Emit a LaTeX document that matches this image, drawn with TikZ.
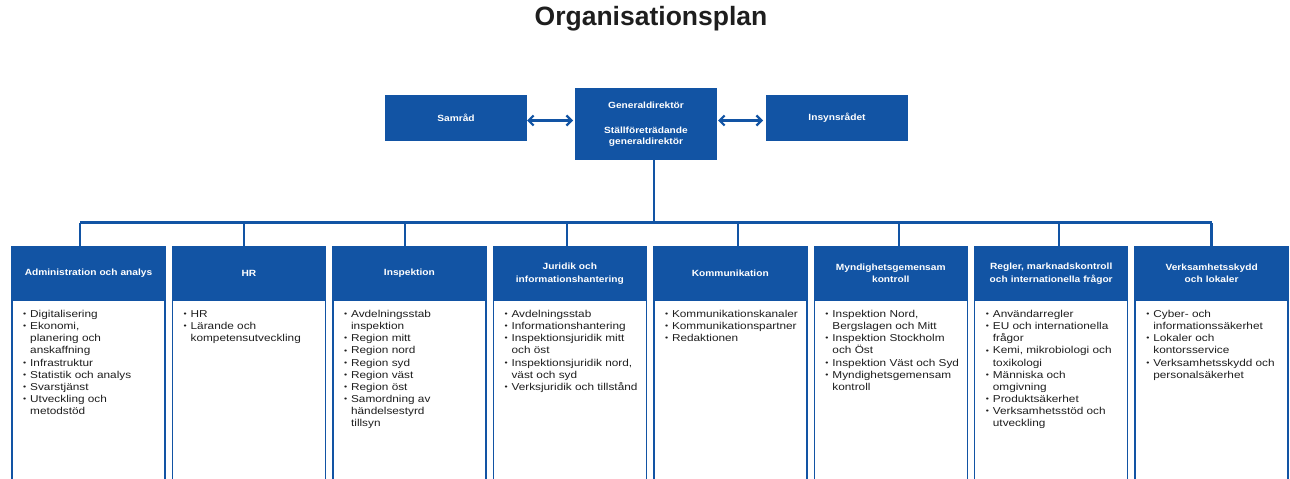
\documentclass[tikz,border=0pt]{standalone}
\usepackage{fontspec}
\setmainfont{Liberation Sans}
\newfontfamily\headfont{Liberation Sans}[FakeStretch=1.13]
\newfontfamily\bodyfont{Liberation Sans}[FakeStretch=1.18]
\usetikzlibrary{arrows.meta, positioning}

\definecolor{orgblue}{RGB}{18,84,164}
\definecolor{orgtext}{RGB}{30,30,30}

% bullet and continuation line for the unit lists
\newcommand{\bl}{\makebox[7pt][l]{\raisebox{0.15ex}{\scalebox{0.75}{\textbullet}}}}
\newcommand{\cl}{\hspace*{7pt}}

\begin{document}
\begin{tikzpicture}[x=1pt, y=-1pt,
  head/.style={rectangle, draw=orgblue, fill=orgblue, line width=1.5pt, outer sep=0pt,
               minimum width=153pt, minimum height=53pt, text width=145pt, align=center,
               text=white, font=\headfont\bfseries\fontsize{9}{12.5}\selectfont},
  topbox/.style={head, minimum width=140pt, minimum height=44pt, text width=130pt,
                 font=\headfont\bfseries\fontsize{9}{11.5}\selectfont},
  body/.style={rectangle, draw=orgblue, fill=white, line width=1.5pt, outer sep=0pt,
               minimum width=153pt, minimum height=184pt},
  list/.style={anchor=north west, inner sep=0pt, align=left, text=orgtext,
               font=\bodyfont\fontsize{10}{12.15}\selectfont},
  conn/.style={draw=orgblue, line width=2.5pt},
  biarr/.style={{Straight Barb[length=5pt,width=10pt]}-{Straight Barb[length=5pt,width=10pt]},
                draw=orgblue, line width=2.2pt}
]
\useasboundingbox (0,0) rectangle (1290,479);
\clip (0,0) rectangle (1290,479);

\node[font=\bfseries\fontsize{26.5}{30}\selectfont, text=orgtext] (title) at (651,18.5) {Organisationsplan};

% management row
\node[topbox, minimum height=70pt] (gd) at (646,124)
  {Generaldirektör\\[13.5pt]Ställföreträdande\\generaldirektör};
\node[topbox] (samrad) at (456,118) {Samråd};
\node[topbox] (insyn) at (837,118) {Insynsrådet};
\draw[biarr, shorten <=1pt, shorten >=3pt] ([yshift=-2.5pt]samrad.east) -- ([yshift=-2.5pt]samrad.east -| gd.west);
\draw[biarr, shorten <=2pt, shorten >=4pt] ([yshift=-2.5pt]insyn.west -| gd.east) -- ([yshift=-2.5pt]insyn.west);

% departments
\node[head] (hd1) at (88.5,273.5) {Administration och analys};
\node[head, right=7.45pt of hd1] (hd2) {HR};
\node[head, right=7.45pt of hd2] (hd3) {Inspektion};
\node[head, right=7.45pt of hd3] (hd4) {Juridik och\\informationshantering};
\node[head, right=7.45pt of hd4] (hd5) {Kommunikation};
\node[head, right=7.45pt of hd5] (hd6) {Myndighetsgemensam\\kontroll};
\node[head, right=7.45pt of hd6] (hd7) {Regler, marknadskontroll\\och internationella frågor};
\node[head, right=7.45pt of hd7] (hd8) {Verksamhetsskydd\\och lokaler};
\foreach \i in {1,...,8}
  \node[body, below=0pt of hd\i] (bx\i) {};

% units
\node[list] (ls1) at ([xshift=11pt, yshift=-10pt]bx1.north west)
  {\bl Digitalisering\\\bl Ekonomi,\\\cl planering och\\\cl anskaffning\\\bl Infrastruktur\\
   \bl Statistik och analys\\\bl Svarstjänst\\\bl Utveckling och\\\cl metodstöd};
\node[list] (ls2) at ([xshift=11pt, yshift=-10pt]bx2.north west)
  {\bl HR\\\bl Lärande och\\\cl kompetensutveckling};
\node[list] (ls3) at ([xshift=11pt, yshift=-10pt]bx3.north west)
  {\bl Avdelningsstab\\\cl inspektion\\\bl Region mitt\\\bl Region nord\\\bl Region syd\\
   \bl Region väst\\\bl Region öst\\\bl Samordning av\\\cl händelsestyrd\\\cl tillsyn};
\node[list] (ls4) at ([xshift=11pt, yshift=-10pt]bx4.north west)
  {\bl Avdelningsstab\\\bl Informationshantering\\\bl Inspektionsjuridik mitt\\\cl och öst\\
   \bl Inspektionsjuridik nord,\\\cl väst och syd\\\bl Verksjuridik och tillstånd};
\node[list] (ls5) at ([xshift=11pt, yshift=-10pt]bx5.north west)
  {\bl Kommunikationskanaler\\\bl Kommunikationspartner\\\bl Redaktionen};
\node[list] (ls6) at ([xshift=11pt, yshift=-10pt]bx6.north west)
  {\bl Inspektion Nord,\\\cl Bergslagen och Mitt\\\bl Inspektion Stockholm\\\cl och Öst\\
   \bl Inspektion Väst och Syd\\\bl Myndighetsgemensam\\\cl kontroll};
\node[list] (ls7) at ([xshift=11pt, yshift=-10pt]bx7.north west)
  {\bl Användarregler\\\bl EU och internationella\\\cl frågor\\\bl Kemi, mikrobiologi och\\
   \cl toxikologi\\\bl Människa och\\\cl omgivning\\\bl Produktsäkerhet\\
   \bl Verksamhetsstöd och\\\cl utveckling};
\node[list] (ls8) at ([xshift=11pt, yshift=-10pt]bx8.north west)
  {\bl Cyber- och\\\cl informationssäkerhet\\\bl Lokaler och\\\cl kontorsservice\\
   \bl Verksamhetsskydd och\\\cl personalsäkerhet};

% connector tree
\coordinate (busl) at ([xshift=-8.5pt, yshift=24.5pt]hd1.north);
\coordinate (busr) at ([yshift=24.5pt]hd8.north);
\draw[conn] ([xshift=8pt]gd.south) -- ([xshift=8pt]gd.south |- busl);
\draw[conn] (busl) -- (busr);
\foreach \c/\dx in {1/-8.5,2/-5,3/-4.4,4/-2.9,5/7.7,6/8.2,7/7.8,8/0}
  \draw[conn] ([xshift=\dx pt]hd\c.north) -- ([xshift=\dx pt, yshift=24.5pt]hd\c.north);
\end{tikzpicture}
\end{document}
